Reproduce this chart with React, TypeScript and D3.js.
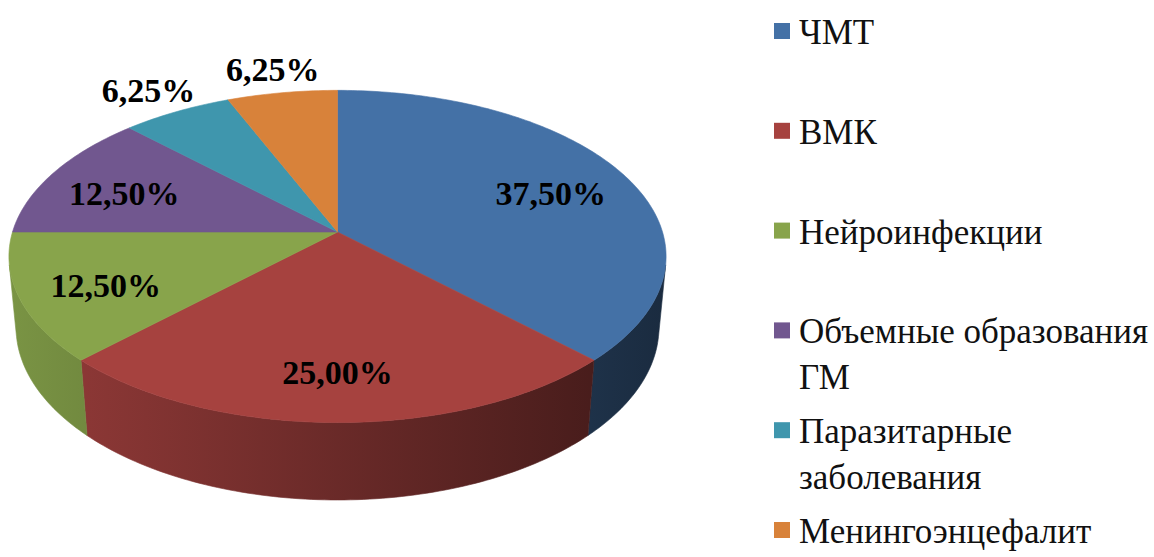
import React from "react";
import * as d3 from "d3";

// data
const categories = [
  "ЧМТ",
  "ВМК",
  "Нейроинфекции",
  "Объемные образования ГМ",
  "Паразитарные заболевания",
  "Менингоэнцефалит",
];
const values = [37.5, 25, 12.5, 12.5, 6.25, 6.25];
const legendLines = [
  ["ЧМТ"],
  ["ВМК"],
  ["Нейроинфекции"],
  ["Объемные образования", "ГМ"],
  ["Паразитарные", "заболевания"],
  ["Менингоэнцефалит"],
];
const colors = ["#4471a6", "#a6423f", "#88a44b", "#71578f", "#3f96ad", "#d8823a"];

const W = 1154;
const H = 557;
const FONT = "Liberation Serif";

// perspective setup for the 3d disc
const cx = 337.5;
const cy = 232;
const D = 1;
const R = 0.17;
const depth = 0.0434;
const alpha = (30 * Math.PI) / 180;
const sinA = Math.sin(alpha);
const cosA = Math.cos(alpha);
const focal = 325 / R;

const project = (theta: number, r: number, y: number): [number, number] => {
  const X = r * R * Math.sin(theta);
  const Z = r * R * Math.cos(theta);
  const u = Z * sinA + y * cosA;
  const d = D + Z * cosA - y * sinA;
  return [cx + (focal * X) / d, cy - (focal * u) / d];
};

const arcPoints = (a0: number, a1: number, r: number, y: number) => {
  const n = Math.max(2, Math.ceil(((a1 - a0) * 180) / Math.PI));
  return d3.range(n + 1).map((i) => project(a0 + ((a1 - a0) * i) / n, r, y));
};

const fmt = d3
  .formatLocale({ decimal: ",", thousands: " ", grouping: [3], currency: ["", ""] })
  .format(".2f");

const App = () => {
  const arcs = d3
    .pie<number>()
    .sort(null)
    .value((d) => d)(values);
  const line = d3.line();

  // visible part of the outer wall
  const thMin = Math.acos(-R / (D * cosA));
  const thMax = 2 * Math.PI - thMin;

  const shade = (c: string, k: number) => {
    const b = d3.rgb(c);
    return d3.rgb(b.r * k, b.g * k, b.b * k).formatHex();
  };

  const ly = d3.scaleLinear().domain([0, categories.length - 1]).range([44, 543]);

  return (
    <svg
      width={W}
      height={H}
      style={{ position: "absolute", left: 0, top: 0, background: "#fff" }}
    >
      <defs>
        {colors.map((c, i) => (
          <linearGradient
            key={i}
            id={"side" + i}
            gradientUnits="userSpaceOnUse"
            x1={8}
            x2={667}
            y1={0}
            y2={0}
          >
            <stop offset={0} stopColor={shade(c, 0.9)} />
            <stop offset={1} stopColor={shade(c, 0.38)} />
          </linearGradient>
        ))}
      </defs>

      {/* side walls */}
      {arcs.map((a, i) => {
        const lo = Math.max(a.startAngle, thMin);
        const hi = Math.min(a.endAngle, thMax);
        if (lo >= hi) return null;
        const pts = [...arcPoints(lo, hi, 1, 0), ...arcPoints(lo, hi, 1, -depth).reverse()];
        return (
          <path
            key={"s" + i}
            d={line(pts) + "Z"}
            fill={`url(#side${i})`}
            stroke={`url(#side${i})`}
            strokeWidth={0.6}
          />
        );
      })}

      {/* top face */}
      {arcs.map((a, i) => {
        const pts = [project(0, 0, 0), ...arcPoints(a.startAngle, a.endAngle, 1, 0)];
        return (
          <path
            key={"t" + i}
            d={line(pts) + "Z"}
            fill={colors[i]}
            stroke={colors[i]}
            strokeWidth={0.6}
          />
        );
      })}

      {/* data labels */}
      {arcs.map((a, i) => {
        const mid = (a.startAngle + a.endAngle) / 2;
        const outside = a.value < 10;
        const [x, y] = project(mid, outside ? 1.2 : 0.74, 0);
        return (
          <text
            key={"l" + i}
            x={x}
            y={y}
            dy={outside ? "0.34em" : "0.5em"}
            textAnchor="middle"
            fontFamily={FONT}
            fontWeight="bold"
            fontSize={34}
            fill="#000"
          >
            {fmt(a.value) + "%"}
          </text>
        );
      })}

      {/* legend */}
      {categories.map((c, i) => {
        const y0 = ly(i);
        return (
          <g key={"g" + i}>
            <rect x={774} y={y0 - 21} width={16} height={16} fill={colors[i]} />
            <text x={799} y={y0} fontFamily={FONT} fontSize={35} fill="#111">
              {legendLines[i].map((l, j) => (
                <tspan key={j} x={799} y={y0 + j * 46}>
                  {l}
                </tspan>
              ))}
            </text>
          </g>
        );
      })}
    </svg>
  );
};

export default App;
